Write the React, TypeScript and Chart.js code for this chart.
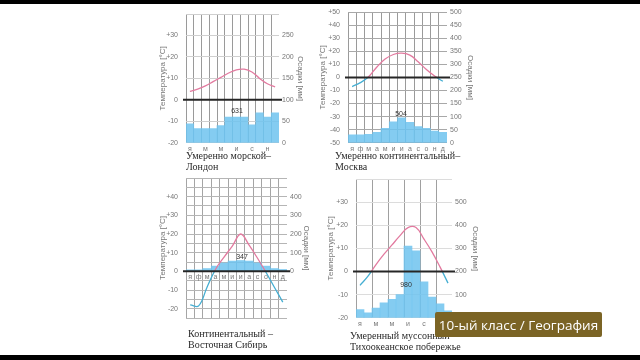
import React, { useEffect, useRef } from 'react';
import { Chart, registerables } from 'chart.js';

Chart.register(...registerables);

// ---------- data ----------
const months = ['я', 'ф', 'м', 'а', 'м', 'и', 'и', 'а', 'с', 'о', 'н', 'д'];

const londonTemp = [4, 5, 6.5, 8.5, 10.5, 12.5, 14, 14.3, 13, 10, 7.5, 6];
const londonPrecip = [44, 33, 33, 33, 40, 60, 60, 60, 42, 70, 60, 70];
const londonTotal = '631';

const moscowTemp = [-7, -4, 0.5, 8, 14, 17.5, 18.5, 17, 12, 6, 1, -3];
const moscowPrecip = [30, 30, 32, 40, 55, 80, 95, 78, 62, 55, 45, 40];
const moscowTotal = '504';

const siberiaTemp = [-18, -18.5, -8.5, 1, 7.5, 13.5, 20, 14, 7, -0.5, -8.5, -16.5];
const siberiaPrecip = [8, 8, 15, 28, 45, 55, 58, 55, 45, 28, 15, 10];
const siberiaTotal = '347';

const monsoonTemp = [-6, -2, 3, 7.5, 11.5, 15.5, 19, 19, 14, 8.5, 2, -5];
const monsoonPrecip = [35, 22, 42, 65, 80, 100, 310, 290, 155, 90, 60, 30];
const monsoonTotal = '980';

// ---------- styles ----------
const PINK = '#e27a9f';
const BLUE = '#45aed2';
const BAR = 'rgba(110,195,238,0.85)';
const SANS = "'Liberation Sans', Arial, sans-serif";
const SERIF = "'Liberation Serif', 'Times New Roman', serif";

type Spec = {
  l: number; t: number; r: number; b: number;
  lw: number; rw: number; padTop: number; xh: number; padBottom?: number;
  xAtZero?: boolean;
  temp: number[]; precip: number[];
  tMin: number; tMax: number; tStep: number; tLabMin: number; tLabMax: number;
  pMin: number; pMax: number; pStep: number; pLabMin: number; pLabMax: number; pLabStep: number;
  monthEvery: number; xGridEvery: number;
  vGrid: string; hGrid: string;
};

function tempColor(context: any) {
  const chart = context.chart;
  const { ctx, chartArea, scales } = chart;
  if (!chartArea || !scales.yT) return PINK;
  const y0 = scales.yT.getPixelForValue(0);
  const h = chartArea.bottom - chartArea.top;
  let s = (y0 - chartArea.top) / h;
  s = Math.min(1, Math.max(0, s));
  const g = ctx.createLinearGradient(0, chartArea.top, 0, chartArea.bottom);
  g.addColorStop(0, PINK);
  g.addColorStop(s, PINK);
  g.addColorStop(s, BLUE);
  g.addColorStop(1, BLUE);
  return g;
}

const zeroLine = {
  id: 'zeroLine',
  afterDatasetsDraw(chart: any) {
    const { ctx, chartArea } = chart;
    const y = chart.scales.yT.getPixelForValue(0);
    ctx.save();
    ctx.strokeStyle = '#262626';
    ctx.lineWidth = 2;
    ctx.beginPath();
    ctx.moveTo(chartArea.left - 3, y);
    ctx.lineTo(chartArea.right + 3, y);
    ctx.stroke();
    ctx.restore();
  },
};

function Panel({ s }: { s: Spec }) {
  const ref = useRef<HTMLCanvasElement>(null);
  const padBottom = s.xAtZero ? (s.padBottom || 14) : 0;
  const width = s.r - s.l + s.lw + s.rw;
  const height = s.b - s.t + s.padTop + (s.xAtZero ? padBottom : s.xh);
  useEffect(() => {
    if (!ref.current) return;
    const tickFont = { family: SANS, size: 7 };
    const titleFont = { family: SANS, size: 8 };
    const chart = new Chart(ref.current, {
      type: 'bar',
      data: {
        labels: months,
        datasets: [
          {
            type: 'line',
            data: s.temp,
            yAxisID: 'yT',
            borderColor: tempColor,
            borderWidth: 1.3,
            pointRadius: 0,
            tension: 0.4,
            fill: false,
            order: 1,
          } as any,
          {
            type: 'bar',
            data: s.precip,
            yAxisID: 'yP',
            backgroundColor: BAR,
            borderWidth: 0,
            barPercentage: 1,
            categoryPercentage: 1,
            order: 2,
          } as any,
        ],
      },
      options: {
        responsive: false,
        animation: false,
        layout: { padding: { top: s.padTop, bottom: padBottom, left: 0, right: 0 } },
        plugins: { legend: { display: false }, tooltip: { enabled: false } },
        scales: {
          x: {
            position: s.xAtZero ? ({ yT: 0 } as any) : 'bottom',
            grid: {
              color: (c: any) => (c.index % s.xGridEvery === 0 ? s.vGrid : 'rgba(0,0,0,0)'),
              drawTicks: false,
              lineWidth: 1,
            },
            border: { display: false },
            ticks: {
              autoSkip: false,
              maxRotation: 0,
              padding: 2,
              font: tickFont,
              color: '#777',
              callback: (_v: any, i: number) => (i % s.monthEvery === 0 ? months[i] : ''),
            },
            afterFit: (sc: any) => { sc.height = s.xh; },
          },
          yT: {
            position: 'left',
            min: s.tMin,
            max: s.tMax,
            ticks: {
              stepSize: s.tStep,
              autoSkip: false,
              padding: 8,
              font: tickFont,
              color: '#777',
              callback: (v: any) => {
                const n = Number(v);
                if (n < s.tLabMin || n > s.tLabMax || n % 10 !== 0) return '';
                return n > 0 ? '+' + n : String(n);
              },
            },
            grid: { color: s.hGrid, drawTicks: false, lineWidth: 1 },
            border: { display: false },
            title: { display: true, text: 'Температура [°C]', font: titleFont, color: '#777', padding: { top: 2, bottom: 0 } },
            afterFit: (sc: any) => { sc.width = s.lw; },
          },
          yP: {
            position: 'right',
            min: s.pMin,
            max: s.pMax,
            ticks: {
              stepSize: s.pStep,
              autoSkip: false,
              padding: 3,
              font: tickFont,
              color: '#777',
              callback: (v: any) => {
                const n = Number(v);
                if (n < s.pLabMin || n > s.pLabMax || n % s.pLabStep !== 0) return '';
                return String(n);
              },
            },
            grid: { display: false, drawTicks: false },
            border: { display: false },
            title: { display: true, text: 'Осадки [мм]', font: titleFont, color: '#777', padding: { top: 2, bottom: 0 } },
            afterFit: (sc: any) => { sc.width = s.rw; },
          },
        },
      } as any,
      plugins: [zeroLine],
    });
    return () => chart.destroy();
  }, []);
  return (
    <canvas
      ref={ref}
      width={width}
      height={height}
      style={{ position: 'absolute', left: s.l - s.lw, top: s.t - s.padTop, width, height }}
    />
  );
}

const london: Spec = {
  l: 186, t: 14, r: 279, b: 143, lw: 30, rw: 28, padTop: 14, xh: 12,
  temp: londonTemp, precip: londonPrecip,
  tMin: -20, tMax: 40, tStep: 10, tLabMin: -20, tLabMax: 30,
  pMin: 0, pMax: 300, pStep: 50, pLabMin: 0, pLabMax: 250, pLabStep: 50,
  monthEvery: 2, xGridEvery: 1, vGrid: '#9a9a9a', hGrid: '#cfcfcf',
};
const moscow: Spec = {
  l: 348, t: 12, r: 447, b: 143, lw: 32, rw: 30, padTop: 14, xh: 12,
  temp: moscowTemp, precip: moscowPrecip,
  tMin: -50, tMax: 50, tStep: 10, tLabMin: -50, tLabMax: 50,
  pMin: 0, pMax: 500, pStep: 50, pLabMin: 0, pLabMax: 500, pLabStep: 50,
  monthEvery: 1, xGridEvery: 1, vGrid: '#9a9a9a', hGrid: '#a8a8a8',
};
const siberia: Spec = {
  l: 186, t: 178, r: 287, b: 318, lw: 30, rw: 26, padTop: 14, xh: 0, padBottom: 14, xAtZero: true,
  temp: siberiaTemp, precip: siberiaPrecip,
  tMin: -25, tMax: 50, tStep: 5, tLabMin: -20, tLabMax: 40,
  pMin: -250, pMax: 500, pStep: 50, pLabMin: 0, pLabMax: 400, pLabStep: 100,
  monthEvery: 1, xGridEvery: 1, vGrid: '#a5a5a5', hGrid: '#b5b5b5',
};
const monsoon: Spec = {
  l: 356, t: 179, r: 452, b: 318, lw: 32, rw: 30, padTop: 14, xh: 12,
  temp: monsoonTemp, precip: monsoonPrecip,
  tMin: -20, tMax: 40, tStep: 10, tLabMin: -20, tLabMax: 30,
  pMin: 0, pMax: 600, pStep: 100, pLabMin: 0, pLabMax: 500, pLabStep: 100,
  monthEvery: 2, xGridEvery: 2, vGrid: '#a0a0a0', hGrid: '#dcdcdc',
};

function Caption({ x, y, lines }: { x: number; y: number; lines: string[] }) {
  return (
    <div style={{ position: 'absolute', left: x, top: y, font: `10px ${SERIF}`, lineHeight: '11px', color: '#2a2a2a', whiteSpace: 'nowrap' }}>
      {lines.map((t, i) => <div key={i}>{t}</div>)}
    </div>
  );
}

function Total({ x, y, text }: { x: number; y: number; text: string }) {
  return (
    <div style={{ position: 'absolute', left: x, top: y, transform: 'translate(-50%,-50%)', font: `7px ${SANS}`, color: '#333' }}>{text}</div>
  );
}

export default function App() {
  return (
    <div style={{ position: 'fixed', left: 0, top: 0, width: 640, height: 360, background: '#fff', overflow: 'hidden', filter: 'blur(0.35px)' }}>
      <Panel s={london} />
      <Panel s={moscow} />
      <Panel s={siberia} />
      <Panel s={monsoon} />
      <Total x={237} y={110} text={londonTotal} />
      <Total x={401} y={113} text={moscowTotal} />
      <Total x={242} y={256} text={siberiaTotal} />
      <Total x={406} y={284} text={monsoonTotal} />
      <Caption x={186} y={150} lines={['Умеренно морской–', 'Лондон']} />
      <Caption x={335} y={150} lines={['Умеренно континентальный–', 'Москва']} />
      <Caption x={188} y={328} lines={['Континентальный –', 'Восточная Сибирь']} />
      <Caption x={350} y={330} lines={['Умеренный муссонный–', 'Тихоокеанское побережье']} />
      <div style={{ position: 'absolute', left: 435, top: 312, width: 167, height: 25, background: '#7b6425', color: '#fff', font: `13.5px 'Open Sans', sans-serif`, display: 'flex', alignItems: 'center', justifyContent: 'center', borderRadius: 2, whiteSpace: 'nowrap' }}>
        10-ый класс / География
      </div>
      <div style={{ position: 'absolute', left: 0, top: 0, width: 640, height: 4, background: '#000' }} />
      <div style={{ position: 'absolute', left: 0, top: 355, width: 640, height: 5, background: '#000' }} />
    </div>
  );
}
